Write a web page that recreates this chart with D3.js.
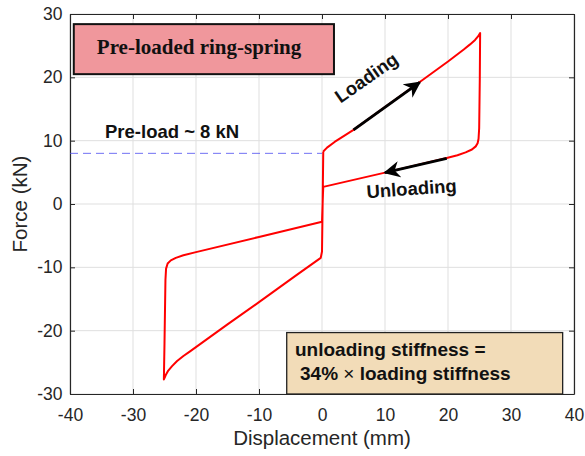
<!DOCTYPE html>
<html>
<head>
<meta charset="utf-8">
<script src="https://cdn.jsdelivr.net/npm/d3@7"></script>
<style>
  body { margin: 0; background: #fff; }
  text { font-family: "Liberation Sans", Arial, sans-serif; }
</style>
</head>
<body>
<div id="chart"></div>
<script>
// hysteresis loop (mm, kN)
const displacement = [0.2, 0.8, 2, 5, 10, 15.3, 20, 22.5, 23.5, 24.3, 24.8, 25.1,
  25.05, 24.95, 24.85, 24.7, 24.4, 23.8, 22.8, 21.5, 19.8, 10, 0.2, 0.15, 0,
  -10, -20, -22, -23.2, -24, -24.5, -24.75, -24.85, -25.0, -25.1,
  -24.8, -24.4, -23.8, -23, -22, -21, -15, -10, -4, -0.2, 0, 0.1, 0.2];
const force = [8.3, 8.9, 9.8, 11.7, 15.3, 19.1, 22.5, 24.4, 25.2, 25.9, 26.5, 27.0,
  20, 12, 10.3, 9.6, 9.1, 8.6, 8.15, 7.7, 7.25, 4.95, 2.7, 1.5, -2.8,
  -5.2, -7.6, -8.1, -8.5, -8.9, -9.4, -10.2, -12, -22, -27.7,
  -27.0, -26.3, -25.6, -24.8, -24.0, -23.3, -19.0, -15.5, -11.2, -8.5, -7.5, 0, 8.3];

const xTicks = [-40, -30, -20, -10, 0, 10, 20, 30, 40];
const yTicks = [-30, -20, -10, 0, 10, 20, 30];
const preload = 8;
const loadingArrow = [[5, 11.7], [15.5, 19.2]];
const unloadingArrow = [[19.8, 7.2], [10, 4.95]];

const W = 585, H = 456;
const margin = { top: 14, right: 11, bottom: 62, left: 70 };
const width = W - margin.left - margin.right;
const height = H - margin.top - margin.bottom;

const svg = d3.select("#chart").append("svg")
  .attr("width", W).attr("height", H);

const g = svg.append("g").attr("transform", `translate(${margin.left},${margin.top})`);

const x = d3.scaleLinear().domain([-40, 40]).range([0, width]);
const y = d3.scaleLinear().domain([-30, 30]).range([height, 0]);

// grid
g.append("g").selectAll("line").data(xTicks).enter().append("line")
  .attr("x1", d => x(d)).attr("x2", d => x(d)).attr("y1", 0).attr("y2", height)
  .attr("stroke", "#dfdfdf").attr("stroke-width", 1);
g.append("g").selectAll("line").data(yTicks).enter().append("line")
  .attr("y1", d => y(d)).attr("y2", d => y(d)).attr("x1", 0).attr("x2", width)
  .attr("stroke", "#dfdfdf").attr("stroke-width", 1);

// axes (MATLAB style: ticks inside, box)
const axisColor = "#262626";
const plain = d => String(d); // keep the plain hyphen like the original
const styleAxis = sel => {
  sel.select(".domain").attr("stroke", axisColor).attr("stroke-width", 1.2);
  sel.selectAll(".tick line").attr("stroke", axisColor);
  sel.selectAll("text").attr("fill", axisColor).style("font-size", "17.5px");
};
g.append("g").attr("transform", `translate(0,${height})`)
  .call(d3.axisBottom(x).tickValues(xTicks).tickFormat(plain).tickSizeInner(-5).tickSizeOuter(0).tickPadding(15))
  .call(styleAxis);
g.append("g")
  .call(d3.axisLeft(y).tickValues(yTicks).tickFormat(plain).tickSizeInner(-5).tickSizeOuter(0).tickPadding(7.5))
  .call(styleAxis);
g.append("g")
  .call(d3.axisTop(x).tickValues(xTicks).tickSizeInner(-5).tickSizeOuter(0).tickFormat(""))
  .call(styleAxis);
g.append("g").attr("transform", `translate(${width},0)`)
  .call(d3.axisRight(y).tickValues(yTicks).tickSizeInner(-5).tickSizeOuter(0).tickFormat(""))
  .call(styleAxis);

// axis labels
svg.append("text")
  .attr("x", 322).attr("y", 445)
  .attr("text-anchor", "middle").attr("fill", axisColor).style("font-size", "20.5px")
  .text("Displacement (mm)");
svg.append("text")
  .attr("transform", `translate(27,${margin.top + y(0)}) rotate(-90)`)
  .attr("text-anchor", "middle").attr("fill", axisColor).style("font-size", "20.5px")
  .text("Force (kN)");

// pre-load dashed line
g.append("line")
  .attr("x1", x(-40)).attr("x2", x(0)).attr("y1", y(preload)).attr("y2", y(preload))
  .attr("stroke", "#4a4af0").attr("stroke-width", 0.8).attr("stroke-dasharray", "8,5");

// hysteresis curve
const pts = displacement.map((d, i) => [d, force[i]]);
g.append("path")
  .datum(pts)
  .attr("fill", "none").attr("stroke", "#ff0000").attr("stroke-width", 2)
  .attr("stroke-linejoin", "round")
  .attr("d", d3.line().x(d => x(d[0])).y(d => y(d[1])));

// arrows
svg.append("defs").append("marker")
  .attr("id", "head").attr("viewBox", "0 0 10 10").attr("refX", 9).attr("refY", 5)
  .attr("markerWidth", 5.5).attr("markerHeight", 5.5).attr("orient", "auto")
  .attr("markerUnits", "strokeWidth")
  .append("path").attr("d", "M0,0 L10,5 L0,10 L3,5 Z").attr("fill", "#000");

[loadingArrow, unloadingArrow].forEach(a => {
  g.append("line")
    .attr("x1", x(a[0][0])).attr("y1", y(a[0][1]))
    .attr("x2", x(a[1][0])).attr("y2", y(a[1][1]))
    .attr("stroke", "#000").attr("stroke-width", 3)
    .attr("marker-end", "url(#head)");
});

// text annotations
svg.append("text")
  .attr("transform", "translate(370,83) rotate(-35)")
  .attr("text-anchor", "middle").attr("font-weight", "bold").style("font-size", "18.5px")
  .attr("fill", "#111").text("Loading");
svg.append("text")
  .attr("transform", "translate(412,195) rotate(-4)")
  .attr("text-anchor", "middle").attr("font-weight", "bold").style("font-size", "18.5px")
  .attr("fill", "#111").text("Unloading");
svg.append("text")
  .attr("x", 105).attr("y", 138).attr("font-weight", "bold").style("font-size", "18.5px")
  .attr("fill", "#111").text("Pre-load ~ 8 kN");

// title box
g.append("rect")
  .attr("x", x(-39.4)).attr("y", y(28.4))
  .attr("width", x(1.9) - x(-39.4)).attr("height", y(20.5) - y(28.4))
  .attr("fill", "#f0979c").attr("stroke", "#111").attr("stroke-width", 2);
svg.append("text")
  .attr("x", 199).attr("y", 54).attr("text-anchor", "middle")
  .style("font-family", "'Liberation Serif', 'Times New Roman', serif")
  .attr("font-weight", "bold").style("font-size", "21px").attr("fill", "#111")
  .text("Pre-loaded ring-spring");

// stiffness box
g.append("rect")
  .attr("x", x(-5.6)).attr("y", y(-20.3))
  .attr("width", x(38.2) - x(-5.6)).attr("height", y(-30) - y(-20.3))
  .attr("fill", "#f2dcb8").attr("stroke", "#222").attr("stroke-width", 1.3);
svg.append("text")
  .attr("x", 295).attr("y", 356).attr("font-weight", "bold").style("font-size", "19px")
  .attr("fill", "#111").text("unloading stiffness =");
const line2 = svg.append("text")
  .attr("x", 300).attr("y", 380).attr("font-weight", "bold").style("font-size", "19px")
  .attr("fill", "#111");
line2.append("tspan").text("34% ");
line2.append("tspan").attr("font-weight", "normal").text("\u00d7");
line2.append("tspan").text(" loading stiffness");
</script>
</body>
</html>
